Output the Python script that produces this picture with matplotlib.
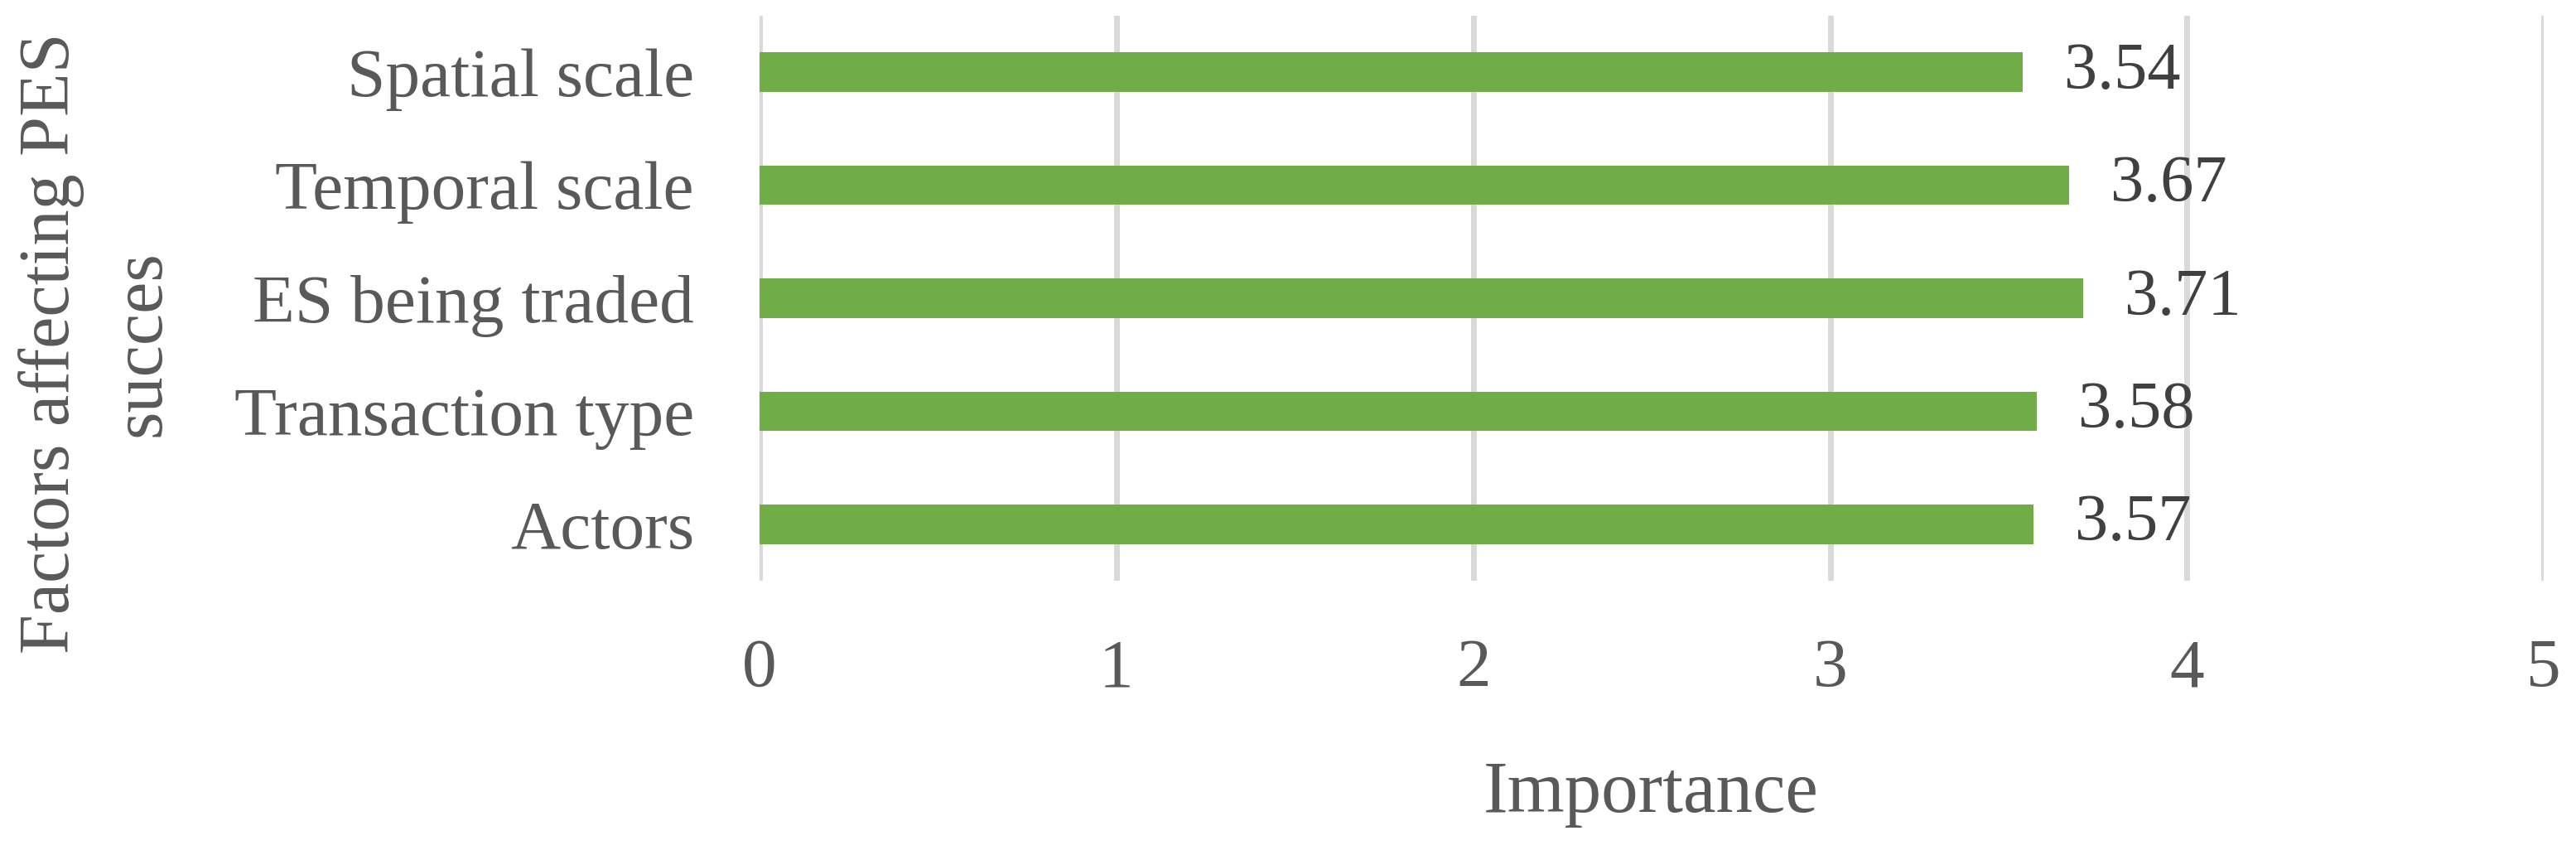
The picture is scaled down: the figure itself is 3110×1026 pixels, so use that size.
import matplotlib.pyplot as plt

# Dane z wykresu (od dołu do góry)
categories = ['Actors', 'Transaction type', 'ES being traded', 'Temporal scale', 'Spatial scale']
values = [3.57, 3.58, 3.71, 3.67, 3.54]
x_ticks = [0, 1, 2, 3, 4, 5]

bar_color = '#70AD47'
grid_color = '#D9D9D9'
text_color = '#595959'
label_color = '#404040'

plt.rcParams['font.family'] = ['Liberation Serif', 'DejaVu Serif']

fig = plt.figure(figsize=(31.1, 10.26), dpi=100)
ax = fig.add_axes([0.2949, 0.3167, 0.9875 - 0.2949, 0.9815 - 0.3167])

pos = list(range(len(categories)))
ax.barh(pos, values, height=0.35, color=bar_color, zorder=3)

# Etykiety wartości przy słupkach
for p, v in zip(pos, values):
    ax.annotate(f"{v:.2f}", xy=(v, p), xytext=(36, 0), textcoords='offset points',
                ha='left', va='center', fontsize=58, color=label_color, zorder=4)

ax.set_xlim(0, 5)
ax.set_ylim(-0.5, len(categories) - 0.5)
ax.set_xticks(x_ticks)
ax.set_xticklabels([str(t) for t in x_ticks])
ax.set_yticks(pos)
ax.set_yticklabels(categories)

ax.xaxis.grid(True, color=grid_color, linewidth=5, zorder=0)
ax.yaxis.grid(False)
ax.tick_params(axis='both', length=0, labelsize=60, labelcolor=text_color)
ax.tick_params(axis='x', pad=50)
ax.tick_params(axis='y', pad=57)
for s in ax.spines.values():
    s.set_visible(False)

# Tytuły osi
fig.text(0.641, 0.066, 'Importance', ha='center', va='center', fontsize=64, color=text_color)
fig.text(0.0375, 0.596, 'Factors affecting PES\nsucces', ha='center', va='center',
         rotation=90, multialignment='center', linespacing=1.5, fontsize=62, color=text_color)

plt.savefig('out.png', dpi=100)
